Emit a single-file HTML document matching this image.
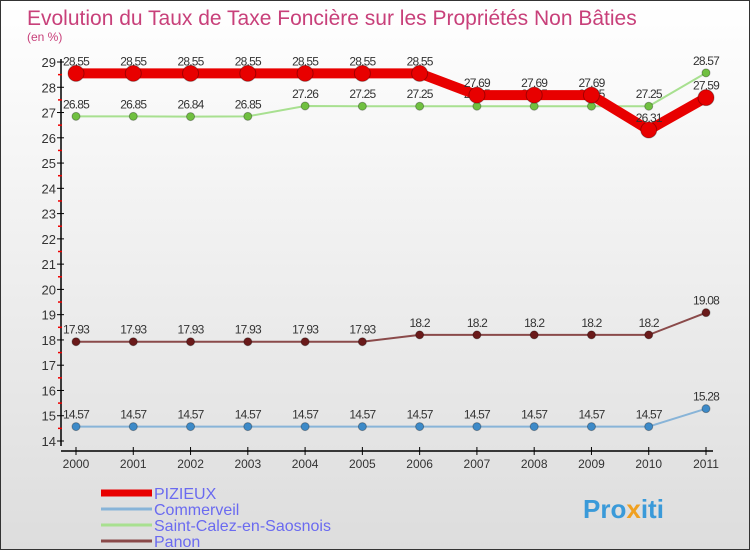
<!DOCTYPE html>
<html><head><meta charset="utf-8"><style>
body{margin:0}
#c{width:748px;height:548px;border:1px solid #333;background:linear-gradient(#fff,#ddd);position:relative;overflow:hidden;font-family:"Liberation Sans",sans-serif}
</style></head><body>
<div id="c">
<svg id="s" width="748" height="548" xmlns="http://www.w3.org/2000/svg">
<text x="26" y="24" font-size="21" fill="#c8407a">Evolution du Taux de Taxe Foncière sur les Propriétés Non Bâties</text>
<text x="26" y="40" font-size="12" fill="#c8407a">(en %)</text>
<g id="axes"></g><g id="series"></g><g id="legend"></g>
<text x="582" y="517" font-size="26" font-weight="bold" fill="#3a9ad9">Pro<tspan fill="#f0a020">x</tspan>iti</text>
</svg>
</div>
<script>
const years=[2000,2001,2002,2003,2004,2005,2006,2007,2008,2009,2010,2011];
const yTicks=[14,15,16,17,18,19,20,21,22,23,24,25,26,27,28,29];
const pizieux=[28.55,28.55,28.55,28.55,28.55,28.55,28.55,27.69,27.69,27.69,26.31,27.59];
const commerveil=[14.57,14.57,14.57,14.57,14.57,14.57,14.57,14.57,14.57,14.57,14.57,15.28];
const saintCalez=[26.85,26.85,26.84,26.85,27.26,27.25,27.25,27.25,27.25,27.25,27.25,28.57];
const panon=[17.93,17.93,17.93,17.93,17.93,17.93,18.2,18.2,18.2,18.2,18.2,19.08];
const seriesNames=["PIZIEUX","Commerveil","Saint-Calez-en-Saosnois","Panon"];
const NS="http://www.w3.org/2000/svg";
const X=i=>75+i*(630/11);
const Y=v=>440-(v-14)*(379/15);
function mk(p,t,a){const e=document.createElementNS(NS,t);for(const k in a)e.setAttribute(k,a[k]);p.appendChild(e);return e;}
const ax=document.getElementById('axes');
let e=mk(ax,'line',{x1:60,y1:58,x2:60,y2:445,stroke:'#000','stroke-width':1.5});

e=mk(ax,'line',{x1:60,y1:450,x2:712,y2:450,stroke:'#000','stroke-width':1.5});

yTicks.forEach(v=>{
 mk(ax,'line',{x1:56,y1:Y(v),x2:63,y2:Y(v),stroke:'#000'});
 if(v<29)mk(ax,'line',{x1:57,y1:Y(v+0.5),x2:61,y2:Y(v+0.5),stroke:'#e00','stroke-width':1.5});
 const t=mk(ax,'text',{x:55,y:Y(v)+5,'font-size':13,fill:'#333','text-anchor':'end'});t.textContent=v;
 
});
years.forEach((y,i)=>{
 mk(ax,'line',{x1:X(i),y1:446,x2:X(i),y2:454,stroke:'#000'});
 const t=mk(ax,'text',{x:X(i),y:467,'font-size':12,fill:'#333','text-anchor':'middle'});t.textContent=y;
 
});
const sg=document.getElementById('series');
function draw(data,col,lw,r,dot,name){
 const g=mk(sg,'g',{});
 
 mk(g,'polyline',{points:data.map((v,i)=>X(i)+','+Y(v)).join(' '),fill:'none',stroke:col,'stroke-width':lw,'stroke-linejoin':'round'});
 data.forEach((v,i)=>{
  const c=mk(g,'circle',{cx:X(i),cy:Y(v),r:r,fill:dot,stroke:'rgba(0,0,0,0.3)'});
  
  const t=mk(g,'text',{x:X(i),y:Y(v)-(name=='series-pizieux'&&i==10?-(-8):8),'font-size':12,fill:'#333','text-anchor':'middle','letter-spacing':'-0.8'});
  t.textContent=v;
 });
}
draw(commerveil,'#88b4d8',2,4,'#3d8ac8','series-commerveil');
draw(panon,'#8a4a4a',2,4,'#6a1a1a','series-panon');
draw(saintCalez,'#a8e090',2,4,'#70c040','series-saint-calez');
draw(pizieux,'#e80000',10,8,'#e80000','series-pizieux');
const lg=document.getElementById('legend');
const lc=['#e80000','#88b4d8','#a8e090','#8a4a4a'],lw=[7,3,3,3];
seriesNames.forEach((n,i)=>{
 const y=492+i*16;
 const g=mk(lg,'g',{});
 mk(g,'line',{x1:100,y1:y,x2:151,y2:y,stroke:lc[i],'stroke-width':lw[i]});
 const t=mk(g,'text',{x:153,y:y+6,'font-size':16,fill:'#6a6af0'});t.textContent=n;
});
</script>
</body></html>
